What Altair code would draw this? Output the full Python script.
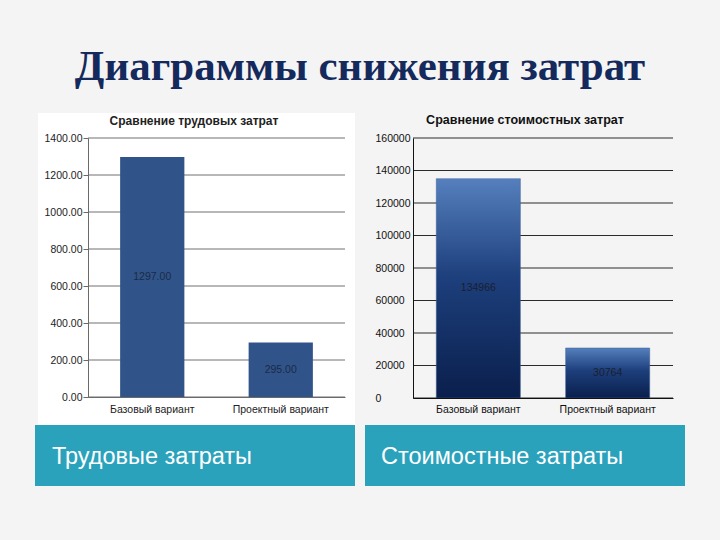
import altair as alt
import pandas as pd

# ---- data ----
categories = ["Базовый вариант", "Проектный вариант"]
labor_values = [1297.00, 295.00]
cost_values = [134966, 30764]
labor_ticks = [0, 200, 400, 600, 800, 1000, 1200, 1400]
cost_ticks = [0, 20000, 40000, 60000, 80000, 100000, 120000, 140000, 160000]

main_title = "Диаграммы снижения затрат"
left_title = "Сравнение трудовых затрат"
right_title = "Сравнение стоимостных  затрат"
left_caption = "Трудовые затраты"
right_caption = "Стоимостные затраты"

left_df = pd.DataFrame({"cat": categories, "val": labor_values})
right_df = pd.DataFrame({"cat": categories, "val": cost_values})
left_ticks_df = pd.DataFrame({"val": labor_ticks})
right_ticks_df = pd.DataFrame({"val": cost_ticks})

W, H = 720, 540
FONT = "Liberation Sans"
one = alt.Data(values=[{}])


def box(x1, x2, y1, y2, color):
    return alt.Chart(one).mark_rect(color=color).encode(
        x=alt.value(x1), x2=alt.value(x2), y=alt.value(y1), y2=alt.value(y2)
    )


def label(txt, x, y, size, color, font=FONT, weight="normal", align="center"):
    return alt.Chart(one).mark_text(
        text=txt, fontSize=size, color=color, font=font, fontWeight=weight,
        align=align, baseline="middle"
    ).encode(x=alt.value(x), y=alt.value(y))


# ---- left chart (labor) ----
L_X0, L_X1, L_Y0, L_Y1 = 88, 345, 397, 138
lx_scale = alt.Scale(domain=categories, range=[L_X0, L_X1], paddingInner=0.5, paddingOuter=0.25)
ly_scale = alt.Scale(domain=[0, 1400], range=[L_Y0, L_Y1], nice=False, zero=True)
lx_axis = alt.Axis(orient="bottom", offset=-(H - L_Y0), title=None, labelAngle=0,
                   ticks=False, labelPadding=7, labelFont=FONT, labelFontSize=10.5,
                   labelColor="#222", domainColor="#6a6a6a", grid=False, zindex=1)
ly_axis = alt.Axis(orient="left", offset=-L_X0, title=None, values=labor_ticks,
                   format=".2f", tickSize=5, tickColor="#6a6a6a", domainColor="#6a6a6a",
                   labelPadding=1, labelFont=FONT, labelFontSize=10.5,
                   labelColor="#222", grid=False, zindex=1)

left_grid = alt.Chart(left_ticks_df).mark_rule(color="#707070", strokeWidth=1).encode(
    y=alt.Y("val:Q", scale=ly_scale, axis=ly_axis),
    x=alt.value(L_X0), x2=alt.value(L_X1),
)
left_bars = alt.Chart(left_df).mark_bar(color="#30548a").encode(
    x=alt.X("cat:N", sort=categories, scale=lx_scale, axis=lx_axis),
    y=alt.Y("val:Q", scale=ly_scale, axis=ly_axis),
)
left_text = alt.Chart(left_df).transform_calculate(half="datum.val / 2").mark_text(
    font=FONT, fontSize=10.5, color="#1c2a44"
).encode(
    x=alt.X("cat:N", sort=categories, scale=lx_scale, axis=lx_axis),
    y=alt.Y("half:Q", scale=ly_scale, axis=ly_axis),
    text=alt.Text("val:Q", format=".2f"),
)
left_chart = alt.layer(left_grid, left_bars, left_text)

# ---- right chart (cost) ----
R_X0, R_X1, R_Y0, R_Y1 = 413, 673, 398, 138
rx_scale = alt.Scale(domain=categories, range=[R_X0, R_X1], paddingInner=0.35, paddingOuter=0.18)
ry_scale = alt.Scale(domain=[0, 160000], range=[R_Y0, R_Y1], nice=False, zero=True)
rx_axis = alt.Axis(orient="bottom", offset=-(H - R_Y0), title=None, labelAngle=0,
                   ticks=False, labelPadding=6, labelFont=FONT, labelFontSize=10.5,
                   labelColor="#111", domainColor="#111", grid=False, zindex=1)
ry_axis = alt.Axis(orient="left", offset=-R_X0, title=None, values=cost_ticks,
                   format="d", ticks=False, tickSize=0, domainColor="#111",
                   labelAlign="left", labelPadding=38, labelFont=FONT,
                   labelFontSize=10.5, labelColor="#111", grid=False, zindex=1)

gradient = alt.LinearGradient(
    gradient="linear", x1=0, x2=0, y1=0, y2=1,
    stops=[alt.GradientStop(offset=0, color="#5580bd"),
           alt.GradientStop(offset=0.45, color="#1d3f7c"),
           alt.GradientStop(offset=1, color="#0a1f4c")],
)

right_grid = alt.Chart(right_ticks_df).mark_rule(color="#2a2a2a", strokeWidth=1).encode(
    y=alt.Y("val:Q", scale=ry_scale, axis=ry_axis),
    x=alt.value(R_X0), x2=alt.value(R_X1),
)
right_bars = alt.Chart(right_df).mark_bar(color=gradient, stroke="#3b5f96", strokeWidth=0.5).encode(
    x=alt.X("cat:N", sort=categories, scale=rx_scale, axis=rx_axis),
    y=alt.Y("val:Q", scale=ry_scale, axis=ry_axis),
)
right_text = alt.Chart(right_df).transform_calculate(half="datum.val / 2").mark_text(
    font=FONT, fontSize=10.5, color="#1a1f30"
).encode(
    x=alt.X("cat:N", sort=categories, scale=rx_scale, axis=rx_axis),
    y=alt.Y("half:Q", scale=ry_scale, axis=ry_axis),
    text=alt.Text("val:Q", format="d"),
)
right_chart = alt.layer(right_grid, right_bars, right_text)

# ---- decorations ----
left_panel = box(38, 355, 113, 425, "#ffffff")
cap_left = box(35, 355, 425, 486, "#2ba2bc")
cap_right = box(365, 685, 425, 486, "#2ba2bc")

t_main = label(main_title, 360, 67, 43, "#142a5c", font="Liberation Serif", weight="bold")
t_left = label(left_title, 194, 121, 12, "#222", weight="bold")
t_right = label(right_title, 525, 120, 12.5, "#111", weight="bold")
c_left = label(left_caption, 52, 457, 23.5, "#ffffff", align="left")
c_right = label(right_caption, 381, 457, 23.5, "#ffffff", align="left")

chart = alt.layer(
    left_panel, cap_left, cap_right,
    left_chart, right_chart,
    t_main, t_left, t_right, c_left, c_right,
).resolve_scale(x="independent", y="independent").resolve_axis(
    x="independent", y="independent"
).properties(
    width=W, height=H, autosize=alt.AutoSizeParams(type="none"), padding=0,
    background="#f4f4f4",
).configure_view(stroke=None)

chart.save("out.html", embed_options={"renderer": "svg", "actions": False})
